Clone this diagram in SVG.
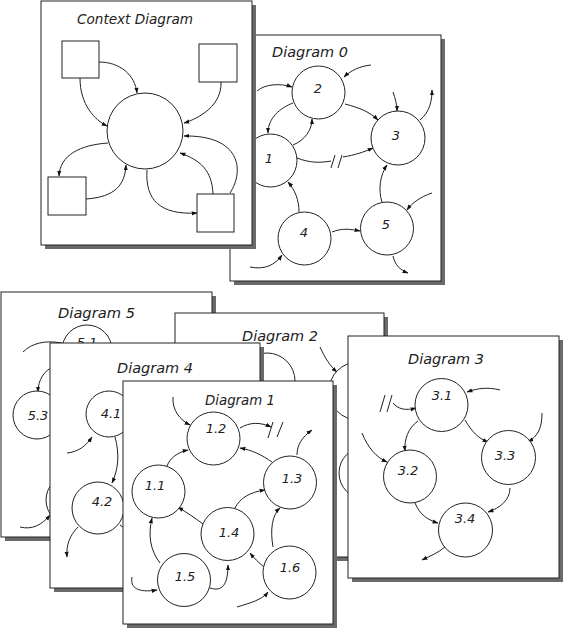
<svg xmlns="http://www.w3.org/2000/svg" width="564" height="631" viewBox="0 0 564 631">
<defs>
<marker id="ah" viewBox="0 0 10 10" refX="9" refY="5" markerWidth="6" markerHeight="6" orient="auto">
<path d="M0,1.5 L10,5 L0,8.5 z" fill="#111"/>
</marker>
<style>
.page{fill:#fff;stroke:#222;stroke-width:1}
.shadow{fill:#6a6a6a}
.node{fill:#fff;stroke:#222;stroke-width:1}
.c{fill:none;stroke:#222;stroke-width:1;marker-end:url(#ah)}
.n{fill:none;stroke:#222;stroke-width:1}
.t{font-family:"DejaVu Sans","Liberation Sans",sans-serif;font-weight:200;font-style:italic;font-size:14px;fill:#222}
.l{font-family:"DejaVu Sans","Liberation Sans",sans-serif;font-weight:200;font-style:italic;font-size:13px;fill:#222;text-anchor:middle}
</style>
</defs>
<rect width="564" height="631" fill="#fff"/>

<!-- Diagram 0 page -->
<g id="page-d0">
<rect class="shadow" x="234" y="39" width="211" height="246"/>
<rect class="page" x="230" y="35" width="211" height="246"/>
<text class="t" x="272" y="57" textLength="76" lengthAdjust="spacingAndGlyphs">Diagram 0</text>
<g id="d0-connectors">
<path class="c" d="M257,91 C265,84 280,83 292,87"/>
<path class="c" d="M293,103 C280,108 268,118 268,133"/>
<path class="c" d="M293,145 C305,140 312,130 312,119"/>
<path class="c" d="M371,65 C360,66 350,71 344,77"/>
<path class="c" d="M345,104 C360,108 370,112 378,120"/>
<path class="c" d="M393,92 C395,98 397,104 397,111"/>
<path class="c" d="M420,120 C430,112 432,100 432,90"/>
<path class="n" d="M297,158 C310,163 320,163 331,161"/>
<path class="n" d="M331,168 L335,155 M338,168 L342,155"/>
<path class="c" d="M343,157 C355,155 364,152 373,148"/>
<path class="c" d="M299,212 C299,200 295,190 288,182"/>
<path class="c" d="M250,267 C265,270 275,265 282,255"/>
<path class="c" d="M332,232 C342,228 350,229 360,231"/>
<path class="c" d="M382,202 C378,190 380,175 387,165"/>
<path class="c" d="M432,193 C420,197 412,203 407,210"/>
<path class="c" d="M393,256 C395,265 400,270 408,273"/>
</g>
<g id="d0-n2"><circle class="node" cx="318.5" cy="92.5" r="26.5"/><text class="l" x="318" y="93">2</text></g>
<g id="d0-n3"><circle class="node" cx="398" cy="138" r="27"/><text class="l" x="396" y="140">3</text></g>
<g id="d0-n1"><circle class="node" cx="270.5" cy="160.5" r="26.5"/><text class="l" x="269" y="163">1</text></g>
<g id="d0-n4"><circle class="node" cx="304.5" cy="238.5" r="26.5"/><text class="l" x="304" y="237">4</text></g>
<g id="d0-n5"><circle class="node" cx="387" cy="228.5" r="26.5"/><text class="l" x="386" y="229">5</text></g>
</g>

<!-- Context Diagram page -->
<g id="page-context">
<rect class="shadow" x="45" y="5" width="211" height="244"/>
<rect class="page" x="41" y="1" width="211" height="244"/>
<text class="t" x="77" y="24" textLength="116" lengthAdjust="spacingAndGlyphs">Context Diagram</text>
<g id="ctx-connectors">
<path class="c" d="M99,62 C120,62 135,75 137,93"/>
<path class="c" d="M80,78 C80,105 95,120 107,126"/>
<path class="c" d="M221,82 C222,105 200,118 184,123"/>
<path class="c" d="M108,143 C80,145 60,155 59,176"/>
<path class="c" d="M86,199 C115,197 125,185 126,165"/>
<path class="c" d="M147,170 C145,200 160,215 197,213"/>
<path class="c" d="M213,194 C212,170 200,160 180,153"/>
<path class="c" d="M230,193 C245,170 240,135 184,136"/>
</g>
<g id="ctx-process"><circle class="node" cx="145" cy="131" r="38"/></g>
<g id="ctx-e1"><rect class="node" x="62" y="41" width="37" height="37"/></g>
<g id="ctx-e2"><rect class="node" x="199" y="44" width="38" height="38"/></g>
<g id="ctx-e3"><rect class="node" x="48" y="177" width="38" height="38"/></g>
<g id="ctx-e4"><rect class="node" x="197" y="194" width="37" height="38"/></g>
</g>

<!-- Diagram 5 page -->
<g id="page-d5">
<rect class="shadow" x="5" y="296" width="211" height="245"/>
<rect class="page" x="1" y="292" width="211" height="245"/>
<text class="t" x="58" y="318" textLength="77" lengthAdjust="spacingAndGlyphs">Diagram 5</text>
<g id="d5-connectors">
<path class="n" d="M23,352 C32,343 45,340 62,343"/>
<path class="c" d="M55,366 C44,370 38,380 38,392"/>
<path class="c" d="M20,527 C32,530 42,525 50,515"/>
</g>
<g id="d5-n51"><circle class="node" cx="87" cy="350" r="25"/><text class="l" x="87" y="347">5.1</text></g>
<g id="d5-n53"><circle class="node" cx="37" cy="415" r="24"/><text class="l" x="38" y="420">5.3</text></g>
<g id="d5-n5x"><circle class="node" cx="71" cy="500" r="25"/></g>
</g>

<!-- Diagram 2 page -->
<g id="page-d2">
<rect class="shadow" x="179" y="317" width="209" height="244"/>
<rect class="page" x="175" y="313" width="209" height="244"/>
<text class="t" x="242" y="341" textLength="76" lengthAdjust="spacingAndGlyphs">Diagram 2</text>
<g id="d2-connectors">
<path class="c" d="M320,347 C325,358 330,366 337,372"/>
</g>
<g id="d2-na"><circle class="node" cx="267" cy="381" r="28"/></g>
<g id="d2-nb"><circle class="node" cx="358" cy="391" r="29"/></g>
<g id="d2-nc"><circle class="node" cx="365" cy="473" r="26"/></g>
</g>

<!-- Diagram 4 page -->
<g id="page-d4">
<rect class="shadow" x="54" y="347" width="210" height="245"/>
<rect class="page" x="50" y="343" width="210" height="245"/>
<text class="t" x="117" y="373" textLength="76" lengthAdjust="spacingAndGlyphs">Diagram 4</text>
<g id="d4-connectors">
<path class="c" d="M67,453 C78,452 86,446 92,437"/>
<path class="c" d="M115,437 C120,455 118,470 112,483"/>
<path class="c" d="M78,527 C70,535 66,545 67,557"/>
<path class="n" d="M120,525 C126,530 132,530 140,528"/>
</g>
<g id="d4-n41"><circle class="node" cx="109" cy="414" r="23"/><text class="l" x="111" y="418">4.1</text></g>
<g id="d4-n42"><circle class="node" cx="98" cy="508" r="26"/><text class="l" x="102" y="506">4.2</text></g>
</g>

<!-- Diagram 1 page -->
<g id="page-d1">
<rect class="shadow" x="127" y="385" width="210" height="243"/>
<rect class="page" x="123" y="381" width="210" height="243"/>
<text class="t" x="205" y="405" textLength="70" lengthAdjust="spacingAndGlyphs">Diagram 1</text>
<g id="d1-connectors">
<path class="c" d="M173,397 C172,410 180,420 190,425"/>
<path class="c" d="M240,428 C250,422 260,422 271,427"/>
<path class="n" d="M268,438 L273,422 M277,437 L283,422"/>
<path class="c" d="M297,455 C297,445 302,437 312,430"/>
<path class="c" d="M272,462 C262,455 252,450 240,448"/>
<path class="c" d="M167,466 C170,458 178,452 188,450"/>
<path class="c" d="M203,524 C195,518 186,512 178,507"/>
<path class="c" d="M235,508 C240,498 250,492 265,490"/>
<path class="c" d="M160,563 C150,550 148,535 152,518"/>
<path class="c" d="M210,588 C222,592 228,585 228,565"/>
<path class="c" d="M132,577 C130,588 138,593 157,590"/>
<path class="c" d="M264,567 C258,562 254,558 250,553"/>
<path class="c" d="M273,547 C270,530 272,515 280,508"/>
<path class="c" d="M237,607 C250,603 262,600 268,592"/>
</g>
<g id="d1-n12"><circle class="node" cx="213.5" cy="438.5" r="26.5"/><text class="l" x="216" y="433">1.2</text></g>
<g id="d1-n11"><circle class="node" cx="158.5" cy="491.5" r="26.5"/><text class="l" x="155" y="490">1.1</text></g>
<g id="d1-n13"><circle class="node" cx="290" cy="482.5" r="26.5"/><text class="l" x="292" y="483">1.3</text></g>
<g id="d1-n14"><circle class="node" cx="227.5" cy="534" r="26.5"/><text class="l" x="229" y="537">1.4</text></g>
<g id="d1-n15"><circle class="node" cx="184" cy="580" r="26.5"/><text class="l" x="185" y="581">1.5</text></g>
<g id="d1-n16"><circle class="node" cx="289.5" cy="572.5" r="26.5"/><text class="l" x="290" y="572">1.6</text></g>
</g>

<!-- Diagram 3 page -->
<g id="page-d3">
<rect class="shadow" x="352" y="340" width="211" height="242"/>
<rect class="page" x="348" y="336" width="211" height="242"/>
<text class="t" x="408" y="364" textLength="76" lengthAdjust="spacingAndGlyphs">Diagram 3</text>
<g id="d3-connectors">
<path class="n" d="M380,412 L385,395 M387,412 L392,395"/>
<path class="c" d="M393,403 C398,409 405,411 416,408"/>
<path class="c" d="M500,390 C488,387 478,388 467,392"/>
<path class="c" d="M418,421 C408,428 404,440 405,451"/>
<path class="c" d="M465,420 C472,432 478,438 488,442"/>
<path class="c" d="M362,433 C368,448 376,457 387,462"/>
<path class="c" d="M542,413 C542,428 538,436 528,442"/>
<path class="c" d="M415,503 C420,515 428,520 438,523"/>
<path class="c" d="M510,488 C510,500 500,508 488,512"/>
<path class="c" d="M445,547 C438,553 430,556 422,560"/>
</g>
<g id="d3-n31"><circle class="node" cx="441.5" cy="405" r="26.5"/><text class="l" x="442" y="400">3.1</text></g>
<g id="d3-n32"><circle class="node" cx="410" cy="476.5" r="26.5"/><text class="l" x="408" y="475">3.2</text></g>
<g id="d3-n33"><circle class="node" cx="508.5" cy="457.5" r="27"/><text class="l" x="505" y="460">3.3</text></g>
<g id="d3-n34"><circle class="node" cx="465.5" cy="530" r="27"/><text class="l" x="465" y="523">3.4</text></g>
</g>
</svg>
